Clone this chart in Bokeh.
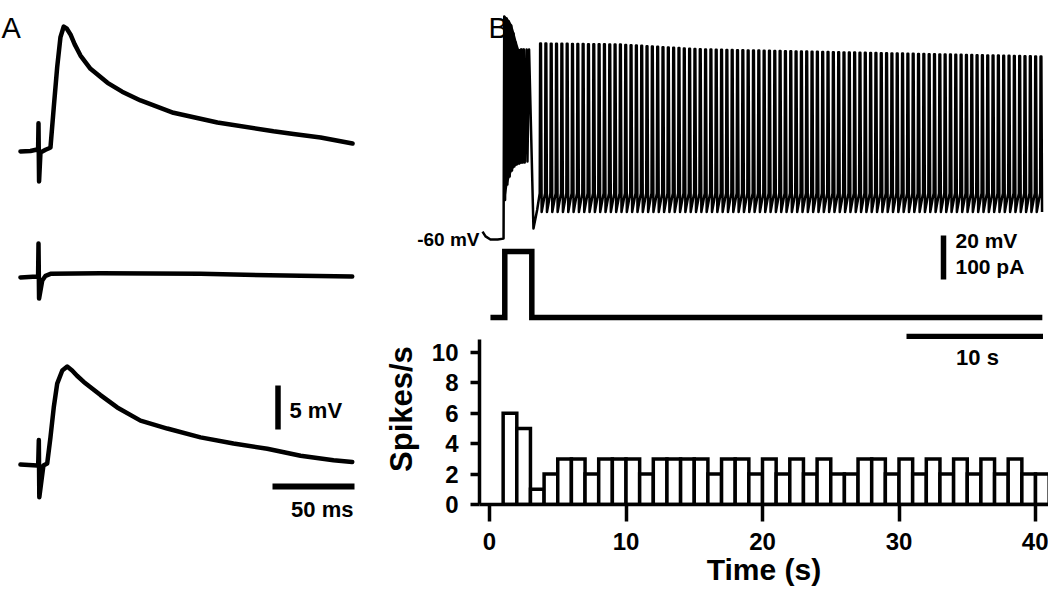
import numpy as np
from bokeh.plotting import figure
from bokeh.models import Range1d, Label, FixedTicker, LinearAxis
from bokeh.layouts import row, column
from bokeh.embed import file_html
from bokeh.resources import INLINE

# ---------------- DATA ----------------
# Panel A: three evoked responses (time in ms, potential in mV relative to baseline)
a1_time = [-11.0, -4.9, -0.9, -0.25, 0.0, 0.35, 1.2, 4.3, 6.1, 7.3, 9.3, 11.4, 13.4, 15.4,
           17.1, 19.5, 22.0, 25.6, 31.7, 42.1, 51.0, 62.2, 82.3, 109.1, 143.3, 155.5, 172.0, 191.5]
a1_mv = [0.0, 0.06, 0.23, 0.1, 3.2, -3.4, -0.1, 0.2, 0.34, 0.45, 5.0, 9.6, 13.0, 14.2,
         14.0, 13.3, 12.2, 10.9, 9.4, 7.8, 6.8, 5.8, 4.4, 3.3, 2.3, 2.0, 1.6, 0.9]

a2_time = [-11.0, -0.9, -0.25, 0.0, 0.35, 2.3, 4.3, 7.3, 37.8, 98.8, 159.8, 191.3]
a2_mv = [-0.1, 0.0, 0.0, 3.75, -2.5, -0.45, 0.08, 0.3, 0.38, 0.3, 0.08, 0.0]

a3_time = [-11.0, -0.8, -0.2, 0.2, 0.5, 3.0, 5.3, 7.3, 9.3, 11.4, 14.5, 17.5, 20.5, 23.5, 27.6,
           37.8, 48.0, 62.2, 78.5, 98.8, 118.9, 139.5, 159.8, 179.9, 191.3]
a3_mv = [0.1, 0.0, 0.0, 2.9, -3.6, 0.0, 0.23, 3.2, 6.6, 9.3, 10.8, 11.25, 10.8, 10.2, 9.5,
         8.0, 6.6, 5.1, 4.2, 3.2, 2.5, 1.9, 1.1, 0.6, 0.4]

# Panel B: membrane potential (s, mV)
hook_time = [-0.51, -0.29, 0.07, 0.60, 1.03]
hook_mv = [-56.4, -58.6, -60.0, -60.0, -59.6]
burst_spike_times = [1.08, 1.25, 1.42, 1.59, 1.76, 1.93, 2.12, 2.32, 2.52, 2.72, 2.90]
burst_peak_mv = [41.4, 40.5, 39.1, 37.3, 33.6, 29.5, 25.9, 26.4, 26.4, 26.4, 26.4]
burst_trough_mv = [-42.0, -35.0, -31.4, -28.6, -26.8, -25.9, -25.5, -25.0, -25.0, -24.5]
ahp_time = [3.22, 3.49]
ahp_mv = [-55.0, -46.6]
tonic_spike_times = [
    3.74, 4.13, 4.52, 4.91, 5.30, 5.69, 6.08, 6.47, 6.86, 7.25,
    7.64, 8.03, 8.42, 8.81, 9.20, 9.59, 9.98, 10.37, 10.76, 11.15,
    11.54, 11.93, 12.32, 12.71, 13.10, 13.49, 13.88, 14.27, 14.66, 15.05,
    15.44, 15.83, 16.22, 16.61, 17.00, 17.39, 17.78, 18.17, 18.56, 18.95,
    19.34, 19.73, 20.12, 20.51, 20.90, 21.29, 21.68, 22.07, 22.46, 22.85,
    23.24, 23.63, 24.02, 24.41, 24.80, 25.19, 25.58, 25.97, 26.36, 26.75,
    27.14, 27.53, 27.92, 28.31, 28.70, 29.09, 29.48, 29.87, 30.26, 30.65,
    31.04, 31.43, 31.82, 32.21, 32.60, 32.99, 33.38, 33.77, 34.16, 34.55,
    34.94, 35.33, 35.72, 36.11, 36.50, 36.89, 37.28, 37.67, 38.06, 38.45,
    38.84, 39.23, 39.62, 40.01, 40.40]
tonic_env_time = [3.74, 9.6, 15.5, 26.4, 40.3]
tonic_env_peak_mv = [29.1, 28.6, 26.4, 25.0, 23.2]
tonic_pre_mv = -39.0
tonic_trough_mv = -47.5

# Panel B: injected current (s, pA)
current_time = [0.07, 1.12, 1.12, 3.10, 3.10, 40.5]
current_pa = [0, 0, 150, 150, 0, 0]

# Panel B: firing-rate histogram (1 s bins)
bin_starts = list(range(1, 41))
spike_counts = [6, 5, 1, 2, 3, 3, 2, 3, 3, 3, 2, 3, 3, 3, 3, 2, 3, 3, 2, 3,
                2, 3, 2, 3, 2, 2, 3, 3, 2, 3, 2, 3, 2, 3, 2, 3, 2, 3, 2, 2]
x_ticks = [0, 10, 20, 30, 40]
y_ticks = [0, 2, 4, 6, 8, 10]

# ---------------- LAYOUT GEOMETRY (pixels) ----------------
FONT = "Liberation Sans"
TOTAL_W, TOTAL_H = 1048, 589
W_A = 379
W_B = TOTAL_W - W_A
H_BT = 339
H_H = TOTAL_H - H_BT
MB_L = 100                     # left border shared by the two B plots
A_X0, B_X0 = 0.0, float(W_A)
BT_Y0, H_Y0 = 0.0, float(H_BT)


def x_range_for(c0, w, mb_l, mb_r, origin, ppu):
    left = c0 + mb_l
    right = c0 + (w - mb_r)
    return Range1d((left - origin) / ppu, (right - origin) / ppu)


def y_range_for(c0, h, mb_t, mb_b, zero, ppu):
    top = c0 + mb_t
    bot = c0 + (h - mb_b)
    return Range1d((zero - bot) / ppu, (zero - top) / ppu)


def dx(ref, origin, ppu):
    return (ref - origin) / ppu


def dy(ref, zero, ppu):
    return (zero - ref) / ppu


def bare_fig(w, h, xr, yr, mb_l=0):
    p = figure(width=w, height=h, x_range=xr, y_range=yr, output_backend="svg",
               toolbar_location=None, x_axis_location=None, y_axis_location=None,
               min_border=0, min_border_left=mb_l, outline_line_color=None,
               background_fill_color="white", border_fill_color="white")
    p.grid.visible = False
    return p


def add_text(p, x, y, text, size, style="bold", align="left", baseline="middle",
             y_range_name="default"):
    p.add_layout(Label(x=x, y=y, text=text, text_font=FONT, text_font_size=size,
                       text_font_style=style, text_align=align, text_baseline=baseline,
                       text_color="black", y_range_name=y_range_name))


# ---------------- PANEL A ----------------
A_T0, A_PPU_T, A_PPU_V = 38.0, 1.64, 8.8
A_BASE = {"t1": 151.0, "t2": 276.0, "t3": 465.0}
pa = bare_fig(W_A, TOTAL_H,
              x_range_for(A_X0, W_A, 0, 0, A_T0, A_PPU_T),
              y_range_for(0.0, TOTAL_H, 0, 0, A_BASE["t1"], A_PPU_V))
pa.extra_y_ranges = {k: y_range_for(0.0, TOTAL_H, 0, 0, v, A_PPU_V)
                     for k, v in A_BASE.items()}
for name, tt, vv in (("t1", a1_time, a1_mv), ("t2", a2_time, a2_mv), ("t3", a3_time, a3_mv)):
    pa.line(tt, vv, y_range_name=name, line_color="black", line_width=4.5,
            line_join="round", line_cap="round")
sb_t = dx(277.5, A_T0, A_PPU_T)
sb_v0 = dy(429.0, A_BASE["t3"], A_PPU_V)
pa.line([sb_t, sb_t], [sb_v0, sb_v0 + 5], y_range_name="t3", line_color="black",
        line_width=5.5, line_cap="butt")
hb_t0 = dx(272.0, A_T0, A_PPU_T)
hb_v = dy(486.0, A_BASE["t3"], A_PPU_V)
pa.line([hb_t0, hb_t0 + 50], [hb_v, hb_v], y_range_name="t3", line_color="black",
        line_width=6, line_cap="butt")
add_text(pa, dx(289, A_T0, A_PPU_T), dy(409.5, A_BASE["t3"], A_PPU_V), "5 mV", "22px",
         y_range_name="t3")
add_text(pa, dx(353, A_T0, A_PPU_T), dy(509, A_BASE["t3"], A_PPU_V), "50 ms", "22px",
         align="right", y_range_name="t3")
add_text(pa, dx(1, A_T0, A_PPU_T), dy(27, A_BASE["t1"], A_PPU_V), "A", "29px",
         style="normal", baseline="alphabetic", y_range_name="t1")

# ---------------- PANEL B (traces) ----------------
B_T0, B_PPU_T = 489.0, 13.65
V_ZERO, V_PPU = 107.0, 2.2          # 0 mV level, px per mV
I_ZERO, I_PPU = 317.0, 0.44         # 0 pA level, px per pA
pb = bare_fig(W_B, H_BT,
              x_range_for(B_X0, W_B, MB_L, 0, B_T0, B_PPU_T),
              y_range_for(BT_Y0, H_BT, 0, 0, V_ZERO, V_PPU), mb_l=MB_L)
pb.extra_y_ranges = {"pA": y_range_for(BT_Y0, H_BT, 0, 0, I_ZERO, I_PPU)}

# "-60 mV" resting-level marker drawn as a single tick label
vax = LinearAxis(ticker=FixedTicker(ticks=[-60]), major_label_overrides={-60: "-60 mV"},
                 axis_line_color=None, major_tick_line_color=None,
                 minor_tick_line_color=None, major_tick_in=0, major_tick_out=0,
                 major_label_standoff=0, major_label_text_font=FONT,
                 major_label_text_font_size="19px", major_label_text_font_style="bold",
                 major_label_text_color="black")
pb.add_layout(vax, "left")

# dense part of the initial burst: the spikes merge into a solid band
n_dense = 9
band_x = burst_spike_times[:n_dense] + burst_spike_times[:n_dense][::-1]
band_y = burst_peak_mv[:n_dense] + burst_trough_mv[:n_dense][::-1]
pb.patch(band_x, band_y, fill_color="black", line_color="black", line_width=2)

vt = list(hook_time)
vv = list(hook_mv)
for i, (t, pk) in enumerate(zip(burst_spike_times, burst_peak_mv)):
    vt.append(t)
    vv.append(pk)
    if i < len(burst_trough_mv):
        vt.append(t + 0.06)
        vv.append(burst_trough_mv[i])
vt += ahp_time
vv += ahp_mv
tonic_peaks = np.interp(tonic_spike_times, tonic_env_time, tonic_env_peak_mv)
for t, pk in zip(tonic_spike_times, tonic_peaks):
    vt += [t - 0.06, t - 0.03, t + 0.03, t + 0.08]
    vv += [tonic_pre_mv, float(pk), float(pk), tonic_trough_mv]
pb.line(vt, vv, line_color="black", line_width=2.5, line_join="round")

pb.line(current_time, current_pa, y_range_name="pA", line_color="black", line_width=5.5,
        line_join="miter", line_cap="butt")

vb_t = dx(943.0, B_T0, B_PPU_T)
vb_v0 = dy(279.0, V_ZERO, V_PPU)
pb.line([vb_t, vb_t], [vb_v0, vb_v0 + 20], line_color="black", line_width=5.5, line_cap="butt")
add_text(pb, dx(955, B_T0, B_PPU_T), dy(240, V_ZERO, V_PPU), "20 mV", "21px")
add_text(pb, dx(955, B_T0, B_PPU_T), dy(266, V_ZERO, V_PPU), "100 pA", "21px")
tb_t0 = dx(906.0, B_T0, B_PPU_T)
tb_v = dy(336.0, V_ZERO, V_PPU)
pb.line([tb_t0, tb_t0 + 10], [tb_v, tb_v], line_color="black", line_width=5.5, line_cap="butt")
add_text(pb, dx(488, B_T0, B_PPU_T), dy(27, V_ZERO, V_PPU), "B", "29px", style="normal",
         baseline="alphabetic")

# ---------------- PANEL B (histogram) ----------------
H_ZERO, H_PPU = 504.0, 15.2
MB_B = int(round(TOTAL_H - H_ZERO))
ph = figure(width=W_B, height=H_H, output_backend="svg", toolbar_location=None,
            x_range=x_range_for(B_X0, W_B, MB_L, 0, B_T0, B_PPU_T),
            y_range=y_range_for(H_Y0, H_H, 0, MB_B, H_ZERO, H_PPU),
            min_border_left=MB_L, min_border_bottom=MB_B, min_border_top=0,
            min_border_right=0, outline_line_color=None, background_fill_color="white",
            border_fill_color="white")
ph.grid.visible = False
ph.quad(left=bin_starts, right=[b + 1 for b in bin_starts], bottom=0, top=spike_counts,
        fill_color="white", line_color="black", line_width=3.5, line_join="miter")
for ax in (ph.xaxis[0], ph.yaxis[0]):
    ax.axis_line_width = 3.5
    ax.axis_line_color = "black"
    ax.major_tick_line_width = 3.5
    ax.major_tick_line_color = "black"
    ax.minor_tick_line_color = None
    ax.major_tick_in = 0
    ax.major_label_text_font = FONT
    ax.major_label_text_font_size = "24px"
    ax.major_label_text_font_style = "bold"
    ax.major_label_text_color = "black"
    ax.axis_label_text_font = FONT
    ax.axis_label_text_font_style = "bold"
    ax.axis_label_text_color = "black"
ph.xaxis.ticker = FixedTicker(ticks=x_ticks)
ph.yaxis.ticker = FixedTicker(ticks=y_ticks)
ph.xaxis.major_tick_out = 17
ph.xaxis.major_label_standoff = 11
ph.xaxis.axis_label = "Time (s)"
ph.xaxis.axis_label_text_font_size = "30px"
ph.xaxis.axis_label_standoff = 0
ph.yaxis.major_tick_out = 9
ph.yaxis.major_label_standoff = 12
ph.yaxis.axis_label = "\u00a0\u00a0\u00a0Spikes/s"
ph.yaxis.axis_label_text_font_size = "31px"
ph.yaxis.axis_label_standoff = 10

add_text(ph, dx(977, B_T0, B_PPU_T), dy(357, H_ZERO, H_PPU), "10 s", "22px", align="center")

layout = row(pa, column(pb, ph))
open("out.html", "w").write(file_html(layout, INLINE))
